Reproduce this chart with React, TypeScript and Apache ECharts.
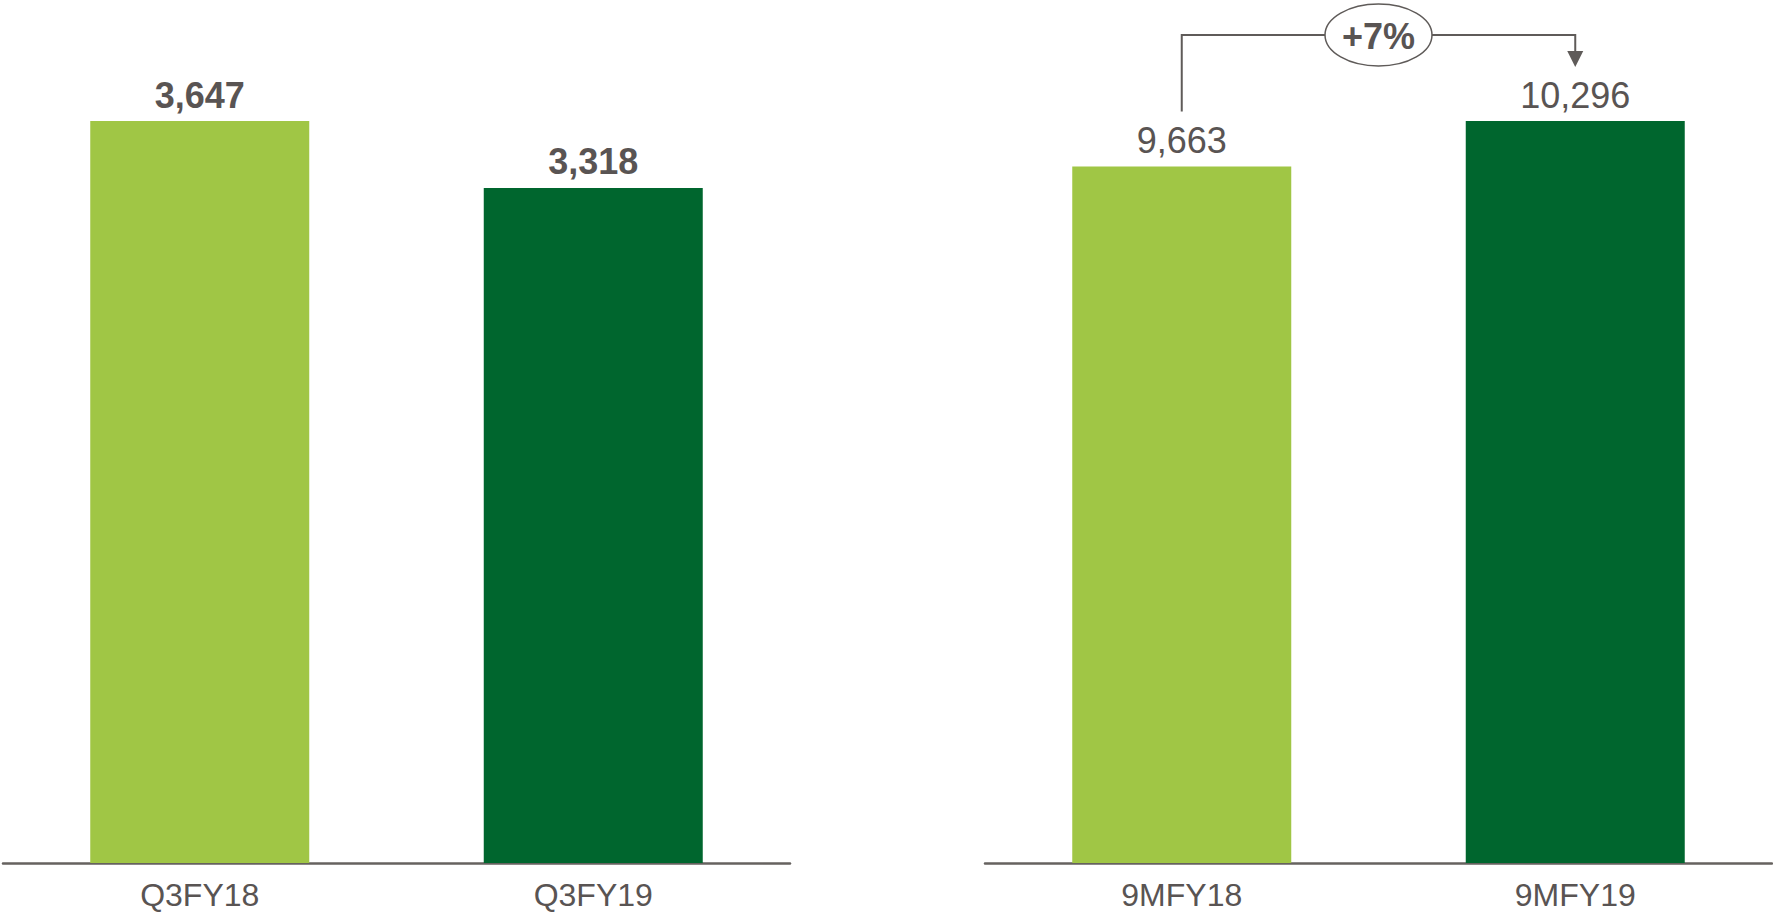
import React, { useEffect, useRef } from "react";
import * as echarts from "echarts";

// Quarter comparison (left panel)
const quarterCategories = ["Q3FY18", "Q3FY19"];
const quarterValues = [3647, 3318];

// Nine-month comparison (right panel)
const nineMonthCategories = ["9MFY18", "9MFY19"];
const nineMonthValues = [9663, 10296];

const LIGHT_GREEN = "#a0c645";
const DARK_GREEN = "#00662e";
const TEXT = "#595453";
const LINE = "#5f5b59";
const FONT = "'Liberation Sans', Arial, Helvetica, sans-serif";

const fmt = (v: number) => v.toLocaleString("en-US");

export default function App() {
  const ref = useRef<HTMLDivElement>(null);

  useEffect(() => {
    if (!ref.current) return;
    const chart = echarts.init(ref.current, undefined, { renderer: "svg" });

    const barData = (vals: number[]) =>
      vals.map((v, i) => ({ value: v, itemStyle: { color: i === 0 ? LIGHT_GREEN : DARK_GREEN } }));

    const xAxisBase = {
      type: "category" as const,
      axisLine: { show: true, lineStyle: { color: "#66625f", width: 2.5 } },
      axisTick: { show: false },
      axisLabel: { color: TEXT, fontSize: 32, fontFamily: FONT, margin: 16 },
    };
    const yAxisBase = {
      type: "value" as const,
      min: 0,
      show: false,
      splitLine: { show: false },
    };

    chart.setOption({
      animation: false,
      grid: [
        { left: 3, width: 787, top: 121, bottom: 51 },
        { left: 985, width: 787, top: 121, bottom: 51 },
      ],
      xAxis: [
        { ...xAxisBase, gridIndex: 0, data: quarterCategories },
        { ...xAxisBase, gridIndex: 1, data: nineMonthCategories },
      ],
      yAxis: [
        { ...yAxisBase, gridIndex: 0, max: Math.max(...quarterValues) },
        { ...yAxisBase, gridIndex: 1, max: Math.max(...nineMonthValues) },
      ],
      series: [
        {
          type: "bar",
          xAxisIndex: 0,
          yAxisIndex: 0,
          barWidth: 219,
          data: barData(quarterValues),
          label: {
            show: true,
            position: "top",
            distance: 8,
            color: TEXT,
            fontSize: 36,
            fontWeight: "bold",
            fontFamily: FONT,
            formatter: (p: any) => fmt(p.value),
          },
        },
        {
          type: "bar",
          xAxisIndex: 1,
          yAxisIndex: 1,
          barWidth: 219,
          data: barData(nineMonthValues),
          label: {
            show: true,
            position: "top",
            distance: 8,
            color: TEXT,
            fontSize: 36,
            fontFamily: FONT,
            formatter: (p: any) => fmt(p.value),
          },
        },
      ],
    });

    // Growth bracket between the two nine-month bars
    const x0 = chart.convertToPixel({ xAxisIndex: 1 }, nineMonthCategories[0]) as number;
    const x1 = chart.convertToPixel({ xAxisIndex: 1 }, nineMonthCategories[1]) as number;
    const y0 = chart.convertToPixel({ yAxisIndex: 1 }, nineMonthValues[0]) as number;
    const y1 = chart.convertToPixel({ yAxisIndex: 1 }, nineMonthValues[1]) as number;
    const topY = Math.min(y0, y1) - 86;
    const startY = y0 - 55;
    const tipY = y1 - 54;
    const midX = (x0 + x1) / 2;
    const growth = Math.round((nineMonthValues[1] / nineMonthValues[0] - 1) * 100);

    chart.setOption({
      graphic: [
        {
          type: "polyline",
          z: 10,
          shape: { points: [[x0, startY], [x0, topY], [x1, topY], [x1, tipY - 16]] },
          style: { stroke: LINE, lineWidth: 2, fill: null },
        },
        {
          type: "polygon",
          z: 10,
          shape: { points: [[x1 - 8, tipY - 16], [x1 + 8, tipY - 16], [x1, tipY]] },
          style: { fill: LINE },
        },
        {
          type: "ellipse",
          z: 11,
          shape: { cx: midX, cy: topY, rx: 53.5, ry: 31 },
          style: { fill: "#ffffff", stroke: LINE, lineWidth: 1.5 },
        },
        {
          type: "text",
          z: 12,
          x: midX,
          y: topY + 1,
          style: {
            text: `+${growth}%`,
            fill: TEXT,
            font: `bold 36px ${FONT}`,
            align: "center",
            verticalAlign: "middle",
          },
        },
      ],
    });

    return () => chart.dispose();
  }, []);

  return (
    <div
      ref={ref}
      style={{ position: "fixed", left: 0, top: 0, width: 1773, height: 914, background: "#ffffff" }}
    />
  );
}
